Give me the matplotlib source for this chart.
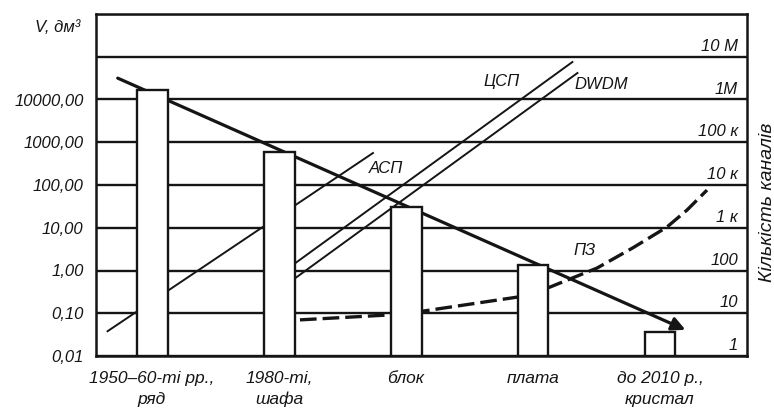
import numpy as np
import matplotlib
matplotlib.use("Agg")
import matplotlib.pyplot as plt

plt.rcParams['font.family'] = ['Liberation Sans', 'DejaVu Sans']
plt.rcParams['font.style'] = 'italic'

INK = '#151515'

# ---- data ----
categories = ["1950–60-ті рр.,\nряд", "1980-ті,\nшафа", "блок", "плата", "до 2010 р.,\nкристал"]
volumes = [16600, 590, 31, 1.35, 0.036]          # V, dm^3

trend_x = [-0.27, 4.2]
trend_v = [31600, 0.041]

asp_x = [-0.35, 1.74]
asp_v = [0.038, 560]

csp_x = [1.13, 3.31]
csp_v = [1.5, 75300]

dwdm_x = [1.13, 3.35]
dwdm_v = [0.67, 41700]

pz_x = [1.165, 1.858, 2.142, 2.882, 3.134, 3.504, 3.787, 4.055, 4.213, 4.37]
pz_v = [0.07, 0.091, 0.113, 0.24, 0.41, 1.14, 3.4, 10.4, 26, 76]

left_ticks = [0.01, 0.1, 1, 10, 100, 1000, 10000, 1e5, 1e6]
left_labels = ["0,01", "0,10", "1,00", "10,00", "100,00", "1000,00", "10000,00", "", ""]
right_labels = ["1", "10", "100", "1 к", "10 к", "100 к", "1M", "10 M"]

# ---- figure ----
fig = plt.figure(figsize=(7.74, 4.11), dpi=100)
ax = fig.add_axes([96/774, 55/411, (747-96)/774, (356-14)/411])
ax.set_yscale('log')
ax.set_ylim(0.01, 1e6)
ax.set_xlim(-0.441, 4.685)

ax.set_yticks(left_ticks)
ax.set_yticklabels(left_labels)
ax.yaxis.set_minor_locator(matplotlib.ticker.NullLocator())
ax.set_xticks(range(len(categories)))
ax.set_xticklabels(categories, fontsize=12.5, linespacing=1.45)
ax.tick_params(axis='both', length=0, labelsize=12, colors=INK)
ax.tick_params(axis='x', pad=11, labelsize=12.5)
ax.tick_params(axis='y', pad=9)

ax.yaxis.grid(True, color=INK, lw=1.7)
ax.set_axisbelow(True)
for s in ax.spines.values():
    s.set_color(INK)
    s.set_linewidth(1.8)

# lines behind bars
ax.plot(asp_x, asp_v, color=INK, lw=1.4, zorder=2)
ax.plot(csp_x, csp_v, color=INK, lw=1.4, zorder=2)
ax.plot(dwdm_x, dwdm_v, color=INK, lw=1.4, zorder=2)
ax.plot(pz_x, pz_v, color=INK, lw=2.4, zorder=2, dashes=(5, 1.8))
ax.annotate('', xy=(trend_x[1], trend_v[1]), xytext=(trend_x[0], trend_v[0]),
            arrowprops=dict(arrowstyle='-|>', lw=2.3, color=INK,
                            mutation_scale=20, shrinkA=0, shrinkB=0),
            zorder=2.5)

# bars
base = 0.01
ax.bar(range(len(categories)), np.array(volumes) - base, bottom=base, width=0.244,
       color='white', edgecolor=INK, lw=1.7, zorder=3)

# series labels
ax.text(2.756, 25700, "ЦСП", fontsize=12, ha='center', va='center', color=INK)
ax.text(3.535, 21900, "DWDM", fontsize=12, ha='center', va='center', color=INK)
ax.text(1.843, 237, "АСП", fontsize=12, ha='center', va='center', color=INK)
ax.text(3.409, 3.0, "ПЗ", fontsize=12, ha='center', va='center', color=INK)

# right-hand channel labels
for v, lab in zip(left_ticks[:-1], right_labels):
    ax.annotate(lab, xy=(1, v), xycoords=('axes fraction', 'data'),
                xytext=(-6.5, 2), textcoords='offset points',
                ha='right', va='bottom', fontsize=12, color=INK)

ax.annotate("V, дм³", xy=(0, 10**5.68), xycoords=('axes fraction', 'data'),
            xytext=(-11, 0), textcoords='offset points',
            ha='right', va='center', fontsize=12, color=INK)

fig.text(767/774, 1 - 202/411, "Кількість каналів", rotation=90,
         ha='center', va='center', fontsize=14, color=INK)

fig.savefig("out.png", dpi=100)
